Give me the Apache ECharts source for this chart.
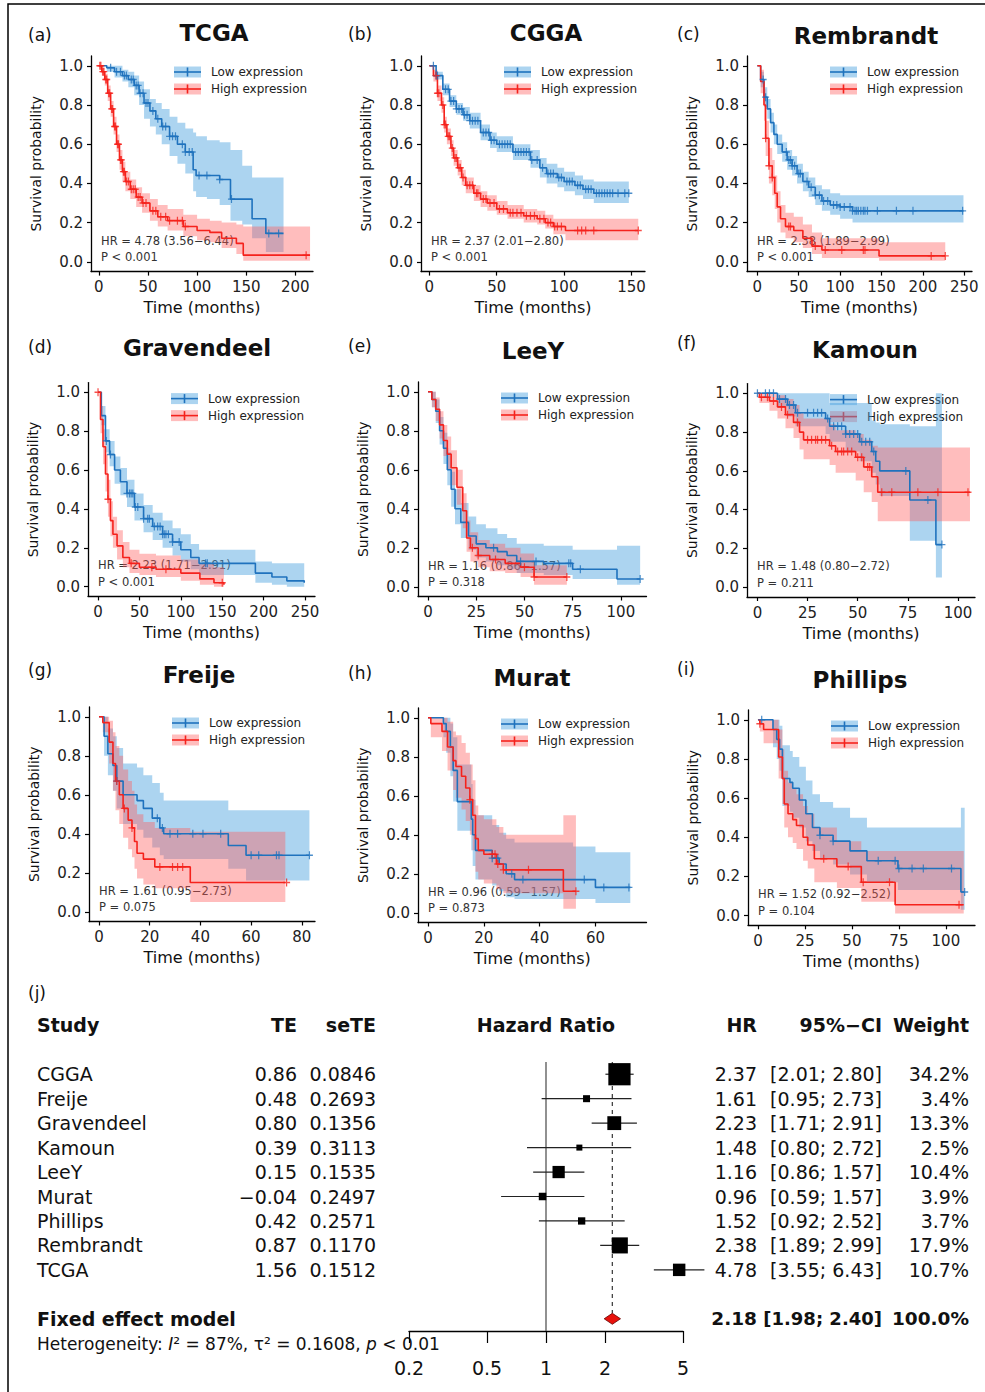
<!DOCTYPE html>
<html lang="en">
<head>
<meta charset="utf-8"/>
<title>Survival by expression group and meta-analysis</title>
<script src="https://cdn.jsdelivr.net/npm/echarts@6.0.0/dist/echarts.min.js"></script>
<style>
  html, body { margin: 0; padding: 0; background: #fff; }
  #main { width: 985px; height: 1392px; }
</style>
</head>
<body>
<div id="main"></div>
<script>
var FONT = 'DejaVu Sans';
var BLUE = '#1f72bd', RED = '#f5221c';
var BLUE_BAND = 'rgba(70,160,222,0.45)', RED_BAND = 'rgba(255,90,90,0.40)';

// survival curves, one row per step: [time, survival, lower 95%, upper 95%]
var tcgaLow = [[0,1,1,1],[8,0.99,0.97,1],[16,0.97,0.94,1],[24,0.95,0.92,0.98],[30,0.93,0.89,0.97],[36,0.90,0.85,0.95],
  [41,0.86,0.80,0.92],[46,0.81,0.73,0.88],[52,0.77,0.69,0.83],[58,0.73,0.65,0.81],[64,0.69,0.60,0.78],[72,0.64,0.54,0.74],
  [80,0.60,0.50,0.71],[88,0.56,0.45,0.68],[96,0.47,0.36,0.66],[99,0.44,0.33,0.64],[110,0.44,0.32,0.62],[123,0.42,0.29,0.61],
  [134,0.32,0.21,0.57],[146,0.32,0.19,0.49],[156,0.22,0.12,0.43],[170,0.145,0.05,0.43],[188,0.145,0.05,0.43]];
var tcgaHigh = [[0,1,1,1],[3,0.97,0.95,0.99],[6,0.93,0.90,0.96],[9,0.86,0.82,0.90],[12,0.78,0.74,0.82],[15,0.69,0.65,0.74],
  [18,0.60,0.56,0.65],[21,0.52,0.47,0.57],[24,0.46,0.41,0.51],[27,0.41,0.36,0.46],[32,0.37,0.32,0.42],[38,0.33,0.28,0.38],
  [44,0.30,0.25,0.35],[52,0.26,0.21,0.32],[60,0.23,0.18,0.29],[70,0.21,0.16,0.27],[86,0.18,0.13,0.24],[100,0.16,0.11,0.22],
  [113,0.15,0.10,0.21],[125,0.12,0.07,0.20],[140,0.094,0.04,0.19],[147,0.034,0.005,0.18],[215,0.034,0.005,0.18]];
var cggaLow = [[0,1,1,1],[5,0.95,0.93,0.97],[10,0.88,0.85,0.91],[15,0.82,0.79,0.85],[20,0.78,0.75,0.81],[25,0.75,0.72,0.79],
  [30,0.72,0.68,0.76],[38,0.66,0.62,0.70],[45,0.62,0.58,0.66],[50,0.60,0.56,0.64],[62,0.56,0.52,0.60],[75,0.52,0.48,0.57],
  [82,0.48,0.43,0.53],[87,0.45,0.40,0.50],[95,0.43,0.38,0.48],[100,0.41,0.36,0.46],[108,0.39,0.34,0.44],[114,0.37,0.32,0.42],
  [122,0.35,0.30,0.41],[148,0.35,0.30,0.41]];
var cggaHigh = [[0,1,1,1],[3,0.95,0.92,0.98],[6,0.86,0.82,0.90],[9,0.80,0.76,0.84],[11,0.70,0.66,0.74],[13,0.64,0.60,0.68],
  [16,0.58,0.54,0.62],[18,0.53,0.49,0.57],[21,0.48,0.44,0.52],[24,0.43,0.39,0.47],[27,0.39,0.35,0.43],[33,0.35,0.31,0.39],
  [38,0.32,0.28,0.36],[43,0.30,0.26,0.34],[50,0.27,0.24,0.31],[58,0.25,0.22,0.29],[70,0.235,0.20,0.27],[80,0.22,0.19,0.26],
  [86,0.20,0.17,0.24],[92,0.18,0.14,0.22],[101,0.16,0.11,0.22],[155,0.16,0.11,0.22]];
var rembrandtLow = [[0,1,1,1],[4,0.93,0.89,0.97],[8,0.84,0.79,0.89],[12,0.78,0.73,0.83],[16,0.71,0.66,0.76],[20,0.65,0.60,0.70],
  [24,0.60,0.55,0.65],[30,0.56,0.51,0.61],[36,0.52,0.47,0.57],[42,0.49,0.44,0.54],[48,0.45,0.40,0.50],[55,0.41,0.36,0.46],
  [62,0.38,0.33,0.43],[70,0.34,0.29,0.39],[78,0.31,0.26,0.37],[88,0.29,0.24,0.35],[100,0.28,0.22,0.34],[115,0.26,0.20,0.34],
  [249,0.26,0.20,0.34]];
var rembrandtHigh = [[0,1,1,1],[4,0.92,0.86,0.98],[8,0.80,0.72,0.88],[10,0.63,0.54,0.72],[14,0.49,0.40,0.58],[18,0.43,0.34,0.52],
  [21,0.35,0.27,0.44],[24,0.28,0.20,0.36],[28,0.22,0.15,0.29],[34,0.18,0.12,0.25],[44,0.16,0.10,0.23],[55,0.12,0.07,0.19],
  [66,0.08,0.04,0.15],[78,0.06,0.02,0.12],[147,0.03,0.005,0.10],[227,0.03,0.005,0.10]];
var gravendeelLow = [[0,1,1,1],[4,0.88,0.83,0.93],[9,0.75,0.69,0.81],[14,0.68,0.62,0.75],[20,0.60,0.53,0.67],[27,0.54,0.47,0.61],
  [35,0.48,0.41,0.55],[44,0.41,0.34,0.48],[55,0.35,0.28,0.42],[66,0.31,0.24,0.38],[78,0.27,0.20,0.34],[90,0.23,0.16,0.30],
  [100,0.19,0.13,0.27],[112,0.15,0.09,0.22],[122,0.12,0.06,0.19],[190,0.07,0.02,0.13],[210,0.05,0.01,0.12],[228,0.03,0,0.12],
  [249,0.02,0,0.12]];
var gravendeelHigh = [[0,1,1,1],[3,0.86,0.79,0.93],[6,0.72,0.63,0.81],[9,0.58,0.49,0.68],[12,0.45,0.36,0.55],[15,0.34,0.26,0.44],
  [18,0.27,0.20,0.36],[23,0.21,0.14,0.29],[30,0.15,0.10,0.23],[38,0.12,0.07,0.19],[50,0.10,0.06,0.17],[70,0.09,0.05,0.16],
  [100,0.07,0.03,0.14],[123,0.04,0.01,0.12],[140,0.02,0,0.10],[152,0.01,0,0.10]];
var leeyLow = [[0,1,1,1],[2,0.96,0.92,1],[4,0.90,0.84,0.96],[6,0.80,0.73,0.87],[8,0.71,0.63,0.79],[10,0.60,0.52,0.69],
  [12,0.50,0.41,0.59],[14,0.40,0.32,0.50],[17,0.33,0.25,0.43],[21,0.26,0.19,0.36],[25,0.22,0.15,0.32],[30,0.20,0.13,0.30],
  [36,0.18,0.11,0.27],[41,0.16,0.09,0.25],[46,0.13,0.07,0.22],[60,0.12,0.06,0.21],[75,0.09,0.04,0.19],[98,0.04,0.01,0.21],
  [110,0.04,0.01,0.21]];
var leeyHigh = [[0,1,1,1],[2,0.96,0.92,1],[4,0.91,0.85,0.97],[6,0.83,0.76,0.90],[8,0.75,0.67,0.83],[10,0.68,0.60,0.77],
  [12,0.61,0.52,0.70],[15,0.51,0.42,0.60],[18,0.39,0.30,0.48],[20,0.25,0.18,0.34],[22,0.20,0.13,0.28],[26,0.16,0.10,0.24],
  [32,0.14,0.08,0.22],[40,0.12,0.07,0.20],[48,0.10,0.05,0.17],[55,0.05,0.01,0.11],[72,0.05,0.01,0.11]];
var kamounLow = [[0,1,1,1],[10,0.97,0.93,1],[15,0.94,0.88,1],[19,0.90,0.83,1],[34,0.87,0.79,1],[36,0.83,0.75,0.95],
  [44,0.79,0.70,0.95],[51,0.75,0.65,0.95],[57,0.70,0.59,0.86],[59,0.65,0.53,0.85],[61,0.60,0.47,0.84],[76,0.45,0.24,0.83],
  [89,0.22,0.05,1],[92,0.22,0.05,1]];
var kamounHigh = [[0,1,1,1],[1,0.98,0.95,1],[6,0.96,0.91,1],[10,0.93,0.87,0.99],[14,0.89,0.82,0.97],[18,0.85,0.77,0.94],
  [21,0.80,0.71,0.90],[23,0.76,0.66,0.87],[36,0.73,0.63,0.84],[39,0.70,0.59,0.81],[49,0.67,0.55,0.79],[53,0.62,0.49,0.76],
  [57,0.57,0.44,0.73],[60,0.49,0.34,0.72],[106,0.49,0.34,0.72]];
var freijeLow = [[0,1,1,1],[2,0.90,0.80,1],[3.5,0.81,0.70,0.94],[5.5,0.75,0.62,0.90],[7,0.67,0.53,0.84],[9.5,0.60,0.45,0.76],
  [15,0.57,0.42,0.74],[17.5,0.53,0.38,0.70],[21,0.48,0.33,0.66],[24,0.43,0.29,0.61],[25.5,0.40,0.27,0.57],[51,0.34,0.22,0.52],
  [58,0.29,0.16,0.52],[83,0.29,0.16,0.52]];
var freijeHigh = [[0,1,1,1],[1.5,0.97,0.92,1],[4,0.87,0.76,0.98],[5.5,0.76,0.62,0.92],[6.5,0.67,0.52,0.85],[8,0.60,0.45,0.80],
  [9.5,0.53,0.38,0.73],[11.5,0.47,0.32,0.67],[13,0.43,0.28,0.62],[14,0.36,0.22,0.55],[15,0.30,0.17,0.50],[17.5,0.27,0.14,0.46],
  [22,0.23,0.12,0.43],[36,0.15,0.05,0.41],[73.5,0.15,0.05,0.41]];
var muratLow = [[0,1,1,1],[5.5,0.97,0.90,1],[6.5,0.93,0.82,1],[8,0.85,0.70,0.97],[9,0.73,0.57,0.90],[10.5,0.57,0.42,0.76],
  [15.5,0.48,0.32,0.66],[16,0.40,0.24,0.58],[17,0.32,0.17,0.50],[23,0.28,0.14,0.45],[25.5,0.25,0.11,0.41],[28,0.20,0.08,0.38],
  [31,0.17,0.07,0.36],[52,0.17,0.07,0.34],[60,0.13,0.05,0.31],[72.5,0.13,0.05,0.31]];
var muratHigh = [[0,1,1,1],[1,0.97,0.90,1],[5,0.93,0.83,1],[7,0.85,0.73,0.98],[9,0.78,0.63,0.93],[10,0.75,0.59,0.91],
  [12,0.70,0.53,0.87],[13.5,0.64,0.47,0.82],[15,0.58,0.40,0.76],[16,0.50,0.32,0.68],[17,0.38,0.21,0.55],[18,0.32,0.17,0.50],
  [20,0.30,0.15,0.48],[24.5,0.25,0.12,0.44],[27,0.22,0.10,0.40],[48.5,0.11,0.02,0.50],[53,0.11,0.02,0.50]];
var phillipsLow = [[0,1,1,1],[8,0.95,0.86,1],[10,0.90,0.80,1],[11.5,0.85,0.74,0.97],[13,0.70,0.56,0.87],[17,0.68,0.53,0.84],
  [18.5,0.65,0.50,0.81],[22,0.59,0.45,0.76],[25.5,0.52,0.38,0.69],[29,0.45,0.33,0.62],[33,0.41,0.29,0.58],[40,0.38,0.26,0.55],
  [49,0.33,0.21,0.50],[58,0.28,0.17,0.45],[74.5,0.24,0.13,0.45],[108,0.12,0.03,0.55],[110,0.12,0.03,0.55]];
var phillipsHigh = [[0,1,1,1],[1,0.98,0.94,1],[3,0.95,0.88,1],[11,0.81,0.70,0.95],[13,0.70,0.57,0.85],[14,0.57,0.45,0.74],
  [16,0.52,0.40,0.68],[18.5,0.49,0.37,0.65],[20.5,0.46,0.34,0.62],[24,0.40,0.28,0.56],[26.5,0.36,0.24,0.52],[30,0.29,0.17,0.45],
  [42,0.25,0.14,0.38],[55,0.17,0.07,0.33],[73,0.055,0.01,0.33],[109.5,0.055,0.01,0.33]];

// censored times (months)
var tcgaLowCens = [12,18,22,26,28,33,35,38,40,42,45,48,50,55,60,65,68,72,75,78,85,88,92,95,102,110,123,135,173,183];
var tcgaHighCens = [1,2,4,5,7,8,10,11,13,14,16,17,19,20,22,23,25,26,28,30,33,35,37,40,42,45,48,55,58,63,68,72,80,85,88,211];
var cggaLowCens = [3,5,6,12,14,16,18,20,22,24,26,28,30,32,34,36,40,42,44,46,48,52,54,56,58,60,64,66,68,70,72,74,76,80,84,88,
  90,92,96,98,102,104,106,110,112,116,118,120,124,126,128,130,132,134,136,140,145,148];
var cggaHighCens = [5,6,7,10,11,12,14,15,17,19,20,22,23,25,28,30,32,35,36,40,42,45,48,52,55,60,62,65,68,72,75,78,82,85,88,
  90,93,95,98,110,113,116,122,155];
var rembrandtLowCens = [7,10,35,38,40,42,45,50,52,60,65,70,75,80,85,92,96,100,105,112,115,118,120,122,125,128,130,133,145,168,188,248];
var rembrandtHighCens = [10,14,18,38,40,70,82,102,128,130,210,227];
var gravendeelLowCens = [10,15,35,38,40,42,45,48,55,60,62,68,72,75,78,80,82,85,90,98,130,132];
var gravendeelHighCens = [0,12,40,65,82,150];
var leeyLowCens = [34,48,56,73,74,79,110];
var leeyHighCens = [23,26,35,50,55,72];
var kamounLowCens = [0,4,6,8,11,14,16,18,20,25,28,30,32,35,38,40,42,44,46,48,50,52,54,56,58,74,85,92];
var kamounHighCens = [2,5,8,12,15,20,25,27,29,30,32,34,37,40,42,43,45,47,50,52,55,56,62,67,80,90,105];
var freijeLowCens = [7,23,25,28,31,37,41,48,60,63,70,71,83];
var freijeHighCens = [7,10,13,24,29,31,33,74];
var muratLowCens = [23,25,30,34,56,63,72];
var muratHighCens = [15,23,24,25,27,36,53];
var phillipsLowCens = [2,33,40,64,73,75,82,88,103,110];
var phillipsHighCens = [1,35,48,56,70,107];

// tick labels
var survTicks = [0, 0.2, 0.4, 0.6, 0.8, 1.0];
var tcgaTicks = [0, 50, 100, 150, 200];
var cggaTicks = [0, 50, 100, 150];
var rembrandtTicks = [0, 50, 100, 150, 200, 250];
var gravendeelTicks = [0, 50, 100, 150, 200, 250];
var leeyTicks = [0, 25, 50, 75, 100];
var kamounTicks = [0, 25, 50, 75, 100];
var freijeTicks = [0, 20, 40, 60, 80];
var muratTicks = [0, 20, 40, 60];
var phillipsTicks = [0, 25, 50, 75, 100];

// in-panel statistics
var tcgaStat = ['HR = 4.78 (3.56\u22126.44)', 'P < 0.001'];
var cggaStat = ['HR = 2.37 (2.01\u22122.80)', 'P < 0.001'];
var rembrandtStat = ['HR = 2.38 (1.89\u22122.99)', 'P < 0.001'];
var gravendeelStat = ['HR = 2.23 (1.71\u22122.91)', 'P < 0.001'];
var leeyStat = ['HR = 1.16 (0.86\u22121.57)', 'P = 0.318'];
var kamounStat = ['HR = 1.48 (0.80\u22122.72)', 'P = 0.211'];
var freijeStat = ['HR = 1.61 (0.95\u22122.73)', 'P = 0.075'];
var muratStat = ['HR = 0.96 (0.59\u22121.57)', 'P = 0.873'];
var phillipsStat = ['HR = 1.52 (0.92\u22122.52)', 'P = 0.104'];

// meta-analysis (panel j)
var studies = ['CGGA', 'Freije', 'Gravendeel', 'Kamoun', 'LeeY', 'Murat', 'Phillips', 'Rembrandt', 'TCGA'];
var te = [0.86, 0.48, 0.80, 0.39, 0.15, -0.04, 0.42, 0.87, 1.56];
var seTE = [0.0846, 0.2693, 0.1356, 0.3113, 0.1535, 0.2497, 0.2571, 0.1170, 0.1512];
var hr = [2.37, 1.61, 2.23, 1.48, 1.16, 0.96, 1.52, 2.38, 4.78];
var ciLo = [2.01, 0.95, 1.71, 0.80, 0.86, 0.59, 0.92, 1.89, 3.55];
var ciHi = [2.80, 2.73, 2.91, 2.72, 1.57, 1.57, 2.52, 2.99, 6.43];
var weight = [34.2, 3.4, 13.3, 2.5, 10.4, 3.9, 3.7, 17.9, 10.7];
var fixedModel = [2.18, 1.98, 2.40, 100.0];   // HR, lower, upper, weight
var hrTicks = [0.2, 0.5, 1, 2, 5];
var nullHR = 1;

// panel layout: grid box [left, top, width, height], x range in months
var panels = [
  {tag: '(a)', title: 'TCGA', low: tcgaLow, lowCens: tcgaLowCens, high: tcgaHigh, highCens: tcgaHighCens, stat: tcgaStat,
   ticks: tcgaTicks, box: [91, 56, 222, 215.6], xr: [-8, 218], titleAt: [214, 33], tagAt: [28, 35]},
  {tag: '(b)', title: 'CGGA', low: cggaLow, lowCens: cggaLowCens, high: cggaHigh, highCens: cggaHighCens, stat: cggaStat,
   ticks: cggaTicks, box: [421, 56, 224, 215.6], xr: [-6.2, 160], titleAt: [546, 33], tagAt: [348, 34]},
  {tag: '(c)', title: 'Rembrandt', low: rembrandtLow, lowCens: rembrandtLowCens, high: rembrandtHigh, highCens: rembrandtHighCens,
   stat: rembrandtStat, ticks: rembrandtTicks, box: [747, 56, 225, 215.6], xr: [-12.5, 259.3], titleAt: [866, 36], tagAt: [677, 34]},
  {tag: '(d)', title: 'Gravendeel', low: gravendeelLow, lowCens: gravendeelLowCens, high: gravendeelHigh, highCens: gravendeelHighCens,
   stat: gravendeelStat, ticks: gravendeelTicks, box: [88, 382.6, 227, 213.8], xr: [-12.1, 262], titleAt: [197, 348], tagAt: [28, 347]},
  {tag: '(e)', title: 'LeeY', low: leeyLow, lowCens: leeyLowCens, high: leeyHigh, highCens: leeyHighCens, stat: leeyStat,
   ticks: leeyTicks, box: [418, 382, 228.5, 214.5], xr: [-5.2, 113.3], titleAt: [533, 351], tagAt: [348, 346]},
  {tag: '(f)', title: 'Kamoun', low: kamounLow, lowCens: kamounLowCens, high: kamounHigh, highCens: kamounHighCens, stat: kamounStat,
   ticks: kamounTicks, box: [747, 383.6, 228, 213.4], xr: [-5.2, 108.5], titleAt: [865, 350], tagAt: [677, 343]},
  {tag: '(g)', title: 'Freije', low: freijeLow, lowCens: freijeLowCens, high: freijeHigh, highCens: freijeHighCens, stat: freijeStat,
   ticks: freijeTicks, box: [89, 707, 226, 214.5], xr: [-3.95, 85.2], titleAt: [199, 675], tagAt: [28, 670]},
  {tag: '(h)', title: 'Murat', low: muratLow, lowCens: muratLowCens, high: muratHigh, highCens: muratHighCens, stat: muratStat,
   ticks: muratTicks, box: [418, 708, 228.5, 214.5], xr: [-3.6, 78.3], titleAt: [532, 678], tagAt: [348, 673]},
  {tag: '(i)', title: 'Phillips', low: phillipsLow, lowCens: phillipsLowCens, high: phillipsHigh, highCens: phillipsHighCens,
   stat: phillipsStat, ticks: phillipsTicks, box: [748, 710, 227, 215.3], xr: [-5.3, 115.5], titleAt: [860, 680], tagAt: [677, 669]}
];

var CROSS = 'path://M5,0L5,10M0,5L10,5';

function survAt(curve, t) {
    var s = curve[0][1];
    for (var i = 0; i < curve.length; i++) {
        if (curve[i][0] <= t) s = curve[i][1];
    }
    return s;
}

function txt(x, y, s, size, opts) {
    opts = opts || {};
    var align = opts.align || 'left';
    return {
        type: 'text', x: x, y: y, silent: true,
        style: {
            text: s, fontSize: size, fontFamily: FONT, fontWeight: opts.bold ? 'bold' : 'normal',
            fill: opts.color || '#111', align: align, textAlign: align,
            verticalAlign: 'middle', textVerticalAlign: 'middle', rich: opts.rich
        }
    };
}

function legendRow(x, y, band, color, label) {
    return [
        {type: 'rect', shape: {x: x, y: y, width: 27, height: 11}, style: {fill: band}},
        {type: 'line', shape: {x1: x, y1: y + 5.5, x2: x + 27, y2: y + 5.5}, style: {stroke: color, lineWidth: 1.6}},
        {type: 'line', shape: {x1: x + 13.5, y1: y + 1, x2: x + 13.5, y2: y + 10}, style: {stroke: color, lineWidth: 1.6}},
        txt(x + 37, y + 5.5, label, 12, {color: '#222'})
    ];
}

// step-shaped confidence band drawn as one polygon
function bandSeries(k, curve, fill) {
    return {
        type: 'custom', xAxisIndex: k, yAxisIndex: k, silent: true, z: 1,
        data: curve.map(function (r) { return [r[0], r[2], r[3]]; }),
        encode: {x: 0, y: [1, 2]},
        renderItem: function (params, api) {
            if (params.dataIndex !== 0) return null;
            var up = [], dn = [];
            for (var i = 0; i < curve.length; i++) {
                var t0 = curve[i][0];
                var t1 = i + 1 < curve.length ? curve[i + 1][0] : t0;
                up.push(api.coord([t0, curve[i][3]]), api.coord([t1, curve[i][3]]));
                dn.push(api.coord([t0, curve[i][2]]), api.coord([t1, curve[i][2]]));
            }
            return {type: 'polygon', shape: {points: up.concat(dn.reverse())}, style: {fill: fill}};
        }
    };
}

var grids = [], xAxes = [], yAxes = [], series = [], elements = [];
var axisLine = {show: true, onZero: false, lineStyle: {color: '#000', width: 1.3}};

panels.forEach(function (p, k) {
    var b = p.box;
    grids.push({left: b[0], top: b[1], width: b[2], height: b[3]});
    xAxes.push({
        gridIndex: k, type: 'value', min: p.xr[0], max: p.xr[1],
        axisLine: axisLine, splitLine: {show: false},
        axisTick: {show: true, length: 4, customValues: p.ticks, lineStyle: {color: '#000', width: 1.2}},
        axisLabel: {customValues: p.ticks, fontSize: 15, fontFamily: FONT, color: '#222', margin: 8},
        name: 'Time (months)', nameLocation: 'middle', nameGap: 28,
        nameTextStyle: {fontSize: 16, fontFamily: FONT, color: '#111'}
    });
    yAxes.push({
        gridIndex: k, type: 'value', min: -0.05, max: 1.05,
        axisLine: axisLine, splitLine: {show: false},
        axisTick: {show: true, length: 4, customValues: survTicks, lineStyle: {color: '#000', width: 1.2}},
        axisLabel: {customValues: survTicks, fontSize: 15, fontFamily: FONT, color: '#222', margin: 8,
            formatter: function (v) { return v.toFixed(1); }},
        name: 'Survival probability', nameLocation: 'middle', nameGap: 48,
        nameTextStyle: {fontSize: 14, fontFamily: FONT, color: '#111'}
    });

    var groups = [[p.low, p.lowCens, BLUE, BLUE_BAND], [p.high, p.highCens, RED, RED_BAND]];
    groups.forEach(function (g) {
        series.push(bandSeries(k, g[0], g[3]));
    });
    groups.forEach(function (g) {
        series.push({
            type: 'line', xAxisIndex: k, yAxisIndex: k, step: 'end', symbol: 'none', silent: true, z: 3,
            lineStyle: {color: g[2], width: 1.6},
            data: g[0].map(function (r) { return [r[0], r[1]]; })
        });
        series.push({
            type: 'scatter', xAxisIndex: k, yAxisIndex: k, symbol: CROSS, symbolSize: [7, 8], silent: true, z: 4,
            itemStyle: {color: 'transparent', borderColor: g[2], borderWidth: 1.3},
            data: g[1].map(function (t) { return [t, survAt(g[0], t)]; })
        });
    });

    elements.push(txt(p.tagAt[0], p.tagAt[1], p.tag, 17));
    elements.push(txt(p.titleAt[0], p.titleAt[1], p.title, 23, {bold: true, align: 'center'}));
    var lx = b[0] + 83, ly = b[1] + 10.5;
    elements = elements.concat(legendRow(lx, ly, BLUE_BAND, BLUE, 'Low expression'));
    elements = elements.concat(legendRow(lx, ly + 17, RED_BAND, RED, 'High expression'));
    var bottom = b[1] + b[3];
    elements.push(txt(b[0] + 10, bottom - 31, p.stat[0], 11.5, {color: '#333'}));
    elements.push(txt(b[0] + 10, bottom - 14.5, p.stat[1], 11.5, {color: '#333'}));
});

// ---- forest plot ----
var FI = panels.length;
var COL = {study: 37, te: 297, se: 376, hr: 757, ci: 882, w: 969};
grids.push({left: 409, top: 1062, width: 274, height: 269});
xAxes.push({
    gridIndex: FI, type: 'log', logBase: 10, min: hrTicks[0], max: hrTicks[hrTicks.length - 1],
    axisLine: axisLine, splitLine: {show: false},
    axisTick: {show: true, length: 12, customValues: hrTicks, lineStyle: {color: '#000', width: 1.2}},
    axisLabel: {customValues: hrTicks, fontSize: 19, fontFamily: FONT, color: '#111', margin: 27,
        formatter: function (v) { return String(v); }}
});
yAxes.push({gridIndex: FI, type: 'value', min: -0.5, max: studies.length + 1.5, inverse: true, show: false});

function fmtTE(v) { return v.toFixed(2).replace('-', '\u2212'); }
function fmtCI(lo, hi) { return '[' + lo.toFixed(2) + '; ' + hi.toFixed(2) + ']'; }

series.push({
    type: 'custom', xAxisIndex: FI, yAxisIndex: FI, silent: true, z: 2,
    data: [[fixedModel[0], studies.length + 1]],
    renderItem: function (params, api) {
        var row = studies.length + 1;
        var m = api.coord([fixedModel[0], row]);
        var lo = api.coord([fixedModel[1], row]);
        var hi = api.coord([fixedModel[2], row]);
        var top = api.coord([nullHR, -0.5]);
        var bot = api.coord([nullHR, row + 0.5]);
        var h = 5.5;
        return {type: 'group', children: [
            {type: 'line', shape: {x1: top[0], y1: top[1], x2: bot[0], y2: bot[1]}, style: {stroke: '#555', lineWidth: 1.3}},
            {type: 'line', shape: {x1: m[0], y1: top[1], x2: m[0], y2: m[1] - h},
             style: {stroke: '#444', lineWidth: 1.3, lineDash: [4, 4]}},
            {type: 'polygon', shape: {points: [[lo[0], m[1]], [m[0], m[1] - h], [hi[0], m[1]], [m[0], m[1] + h]]},
             style: {fill: '#e8120c', stroke: '#600', lineWidth: 0.8}},
            txt(COL.study, m[1], 'Fixed effect model', 19, {bold: true}),
            txt(COL.hr, m[1], fixedModel[0].toFixed(2), 18.5, {bold: true, align: 'right'}),
            txt(COL.ci, m[1], fmtCI(fixedModel[1], fixedModel[2]), 18, {bold: true, align: 'right'}),
            txt(COL.w, m[1], fixedModel[3].toFixed(1) + '%', 18.5, {bold: true, align: 'right'})
        ]};
    }
});

series.push({
    type: 'custom', xAxisIndex: FI, yAxisIndex: FI, silent: true, z: 3,
    data: studies.map(function (s, i) { return [hr[i], i]; }),
    renderItem: function (params, api) {
        var i = params.dataIndex;
        var m = api.coord([hr[i], i]);
        var lo = api.coord([ciLo[i], i]);
        var hi = api.coord([ciHi[i], i]);
        var size = 3.8 * Math.sqrt(weight[i]);
        return {type: 'group', children: [
            {type: 'line', shape: {x1: lo[0], y1: m[1], x2: hi[0], y2: m[1]}, style: {stroke: '#222', lineWidth: 1.2}},
            {type: 'rect', shape: {x: m[0] - size / 2, y: m[1] - size / 2, width: size, height: size}, style: {fill: '#000'}},
            txt(COL.study, m[1], studies[i], 19),
            txt(COL.te, m[1], fmtTE(te[i]), 19, {align: 'right'}),
            txt(COL.se, m[1], seTE[i].toFixed(4), 19, {align: 'right'}),
            txt(COL.hr, m[1], hr[i].toFixed(2), 19, {align: 'right'}),
            txt(COL.ci, m[1], fmtCI(ciLo[i], ciHi[i]), 19, {align: 'right'}),
            txt(COL.w, m[1], weight[i].toFixed(1) + '%', 19, {align: 'right'})
        ]};
    }
});

elements.push(txt(28, 993, '(j)', 17));
elements.push(txt(COL.study, 1025, 'Study', 19, {bold: true}));
elements.push(txt(COL.te, 1025, 'TE', 19, {bold: true, align: 'right'}));
elements.push(txt(COL.se, 1025, 'seTE', 19, {bold: true, align: 'right'}));
elements.push(txt(546, 1025, 'Hazard Ratio', 19, {bold: true, align: 'center'}));
elements.push(txt(COL.hr, 1025, 'HR', 19, {bold: true, align: 'right'}));
elements.push(txt(COL.ci, 1025, '95%\u2212CI', 19, {bold: true, align: 'right'}));
elements.push(txt(COL.w, 1025, 'Weight', 19, {bold: true, align: 'right'}));
elements.push(txt(COL.study, 1344, '{n|Heterogeneity: }{i|I}{n|\u00b2 = 87%, \u03c4\u00b2 = 0.1608, }{i|p}{n| < 0.01}', 17, {
    rich: {
        n: {fontSize: 17, fontFamily: FONT, color: '#222'},
        i: {fontSize: 17, fontFamily: FONT, fontStyle: 'italic', color: '#222'}
    }
}));

// frame
elements.push({type: 'polyline', shape: {points: [[8, 1392], [8, 4], [985, 4]]}, style: {stroke: '#000', lineWidth: 1.5, fill: null}});

var myChart = echarts.init(document.getElementById('main'), null, {renderer: 'svg'});
myChart.setOption({
    backgroundColor: '#fff',
    animation: false,
    textStyle: {fontFamily: FONT},
    grid: grids,
    xAxis: xAxes,
    yAxis: yAxes,
    series: series,
    graphic: {elements: elements}
});
</script>
</body>
</html>
